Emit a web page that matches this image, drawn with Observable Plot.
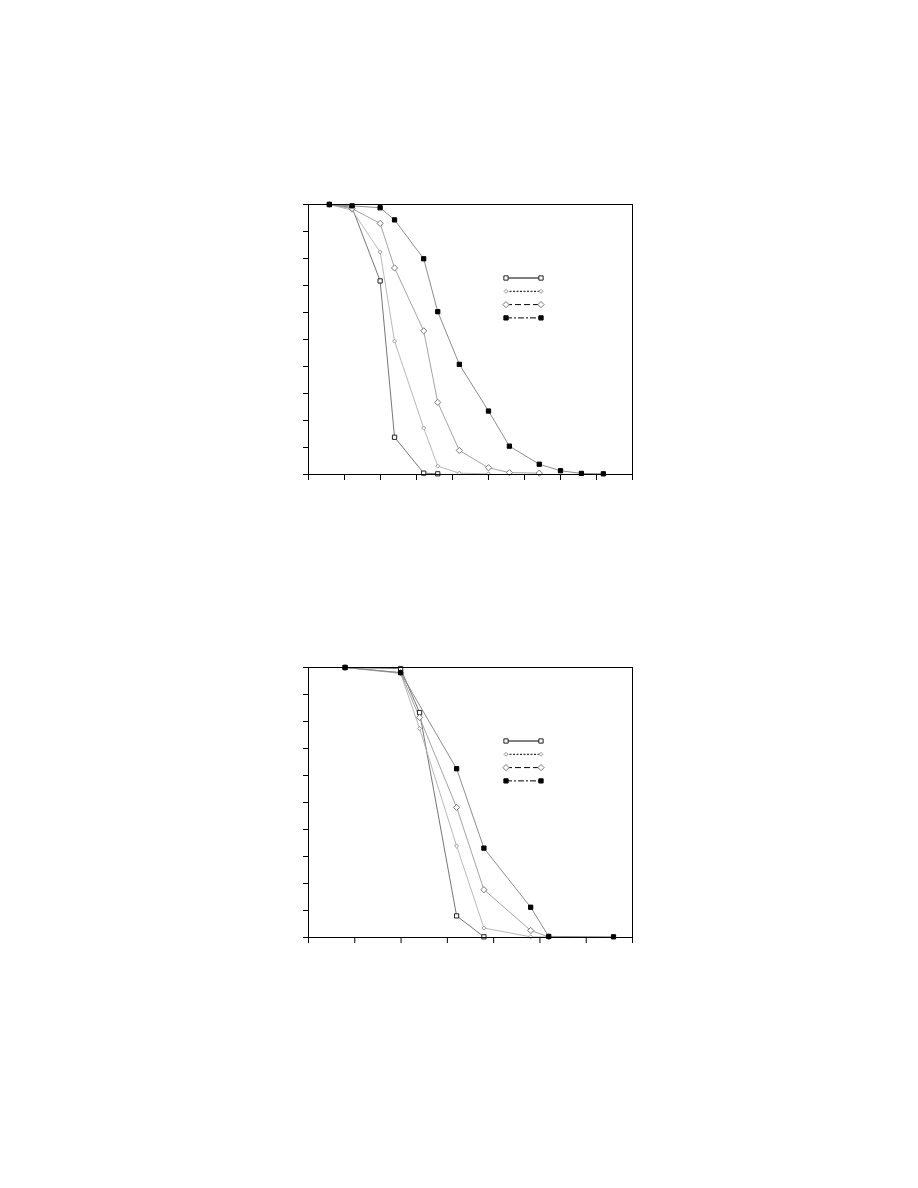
<!DOCTYPE html>
<html>
<head>
<meta charset="utf-8">
<script src="https://cdn.jsdelivr.net/npm/d3@7"></script>
<script src="https://cdn.jsdelivr.net/npm/@observablehq/plot@0.6"></script>
<style>
  html, body { margin: 0; padding: 0; background: #fff; }
  #page { position: relative; width: 918px; height: 1188px; font-family: "Liberation Sans", Arial, sans-serif; }
  .panel { position: absolute; left: 0; }
  .legend { position: absolute; }
</style>
</head>
<body>
<div id="page"></div>
<script>
// ---------- Data ----------
// Top panel
const topX = [0.58, 1.21, 1.99, 2.39, 3.2, 3.59, 4.19, 5.0, 5.58, 6.41, 7.0, 7.58, 8.19];
const topS1 = [100, 98.9, 71.7, 13.8, 0.5, 0.25];
const topS2 = [100, 97.9, 82.4, 49.4, 17.2, 3.1, 0.5, 0.25];
const topS3 = [100, 98.5, 93.0, 76.5, 53.2, 26.7, 8.9, 2.5, 0.7, 0.5];
const topS4 = [100, 99.5, 98.8, 94.3, 79.9, 60.3, 40.8, 23.5, 10.5, 3.8, 1.4, 0.4, 0.25];
const topXTicks = [0, 1, 2, 3, 4, 5, 6, 7, 8, 9];

// Bottom panel
const botX = [0.79, 1.99, 2.4, 3.2, 3.79, 4.8, 5.19, 6.59];
const botS1 = [100, 99.6, 83.3, 8.0, 0.25];
const botS2 = [100, 97.8, 77.4, 33.9, 3.5, 0.25, 0.2];
const botS3 = [100, 98.1, 81.5, 48.2, 17.7, 2.6, 0.25];
const botS4 = [100, 98.1, null, 62.5, 33.1, 11.2, 0.4, 0.25];
const botXTicks = [0, 1, 2, 3, 4, 5, 6, 7];

const yTicks = [0, 10, 20, 30, 40, 50, 60, 70, 80, 90, 100];

// ---------- Styles ----------
const seriesStyle = [
  {key: "s1", line: "#666", legendDash: null,      symbol: "square",   r: 2.4, fill: "#fff", stroke: "#222"},
  {key: "s2", line: "#b0b0b0", legendDash: "2,1.5", symbol: "diamond2", r: 1.8, fill: "#fff", stroke: "#999"},
  {key: "s3", line: "#999", legendDash: "6,3",     symbol: "diamond2", r: 2.8, fill: "#fff", stroke: "#777"},
  {key: "s4", line: "#808080", legendDash: "6,2,2,2", symbol: "square", r: 2.4, fill: "#000", stroke: "#000"}
];

function toRows(xs, ys) {
  return ys.map((v, i) => ({x: xs[i], y: v})).filter(d => d.y != null);
}

function makePanel(xs, series, xTicks, xMax) {
  const marks = [];
  series.forEach((vals, i) => {
    const st = seriesStyle[i];
    marks.push(Plot.line(toRows(xs, vals), {x: "x", y: "y", stroke: st.line, strokeWidth: 0.9}));
  });
  series.forEach((vals, i) => {
    const st = seriesStyle[i];
    marks.push(Plot.dot(toRows(xs, vals), {x: "x", y: "y", symbol: st.symbol, r: st.r, fill: st.fill, stroke: st.stroke, strokeWidth: 1}));
  });
  marks.push(Plot.axisX({ticks: xTicks, tickFormat: () => "", tickSize: 6, stroke: "#000", label: null}));
  marks.push(Plot.axisY({ticks: yTicks, tickFormat: () => "", tickSize: 5, stroke: "#000", label: null}));
  marks.push(Plot.frame({stroke: "#000", strokeWidth: 1}));
  return Plot.plot({
    width: 918,
    height: 296,
    marginLeft: 308,
    marginRight: 286,
    marginTop: 10,
    marginBottom: 16,
    x: {domain: [0, xMax]},
    y: {domain: [0, 100]},
    style: {background: "transparent", overflow: "visible"},
    marks
  });
}

function makeLegend() {
  const w = 50, h = 56;
  const svg = d3.create("svg").attr("width", w).attr("height", h);
  seriesStyle.forEach((st, i) => {
    const y = 4 + i * 13.3;
    const x0 = 4, x1 = 39;
    svg.append("line").attr("x1", x0).attr("x2", x1).attr("y1", y).attr("y2", y)
      .attr("stroke", "#000").attr("stroke-width", 1)
      .attr("stroke-dasharray", st.legendDash);
    const sym = st.symbol === "square" ? d3.symbolSquare : d3.symbolDiamond2;
    const size = Math.PI * st.r * st.r;
    [x0, x1].forEach(x => {
      svg.append("path").attr("d", d3.symbol(sym, size)())
        .attr("transform", `translate(${x},${y})`)
        .attr("fill", st.fill).attr("stroke", st.stroke).attr("stroke-width", 1);
    });
  });
  return svg.node();
}

const page = document.getElementById("page");

const topPanel = makePanel(topX, [topS1, topS2, topS3, topS4], topXTicks, 9);
topPanel.classList.add("panel");
topPanel.style.top = "194px";
page.appendChild(topPanel);

const botPanel = makePanel(botX, [botS1, botS2, botS3, botS4], botXTicks, 7);
botPanel.classList.add("panel");
botPanel.style.top = "657px";
page.appendChild(botPanel);

const leg1 = makeLegend();
leg1.classList.add("legend");
leg1.style.left = "502px";
leg1.style.top = "274px";
page.appendChild(leg1);

const leg2 = makeLegend();
leg2.classList.add("legend");
leg2.style.left = "502px";
leg2.style.top = "737px";
page.appendChild(leg2);
</script>
</body>
</html>
